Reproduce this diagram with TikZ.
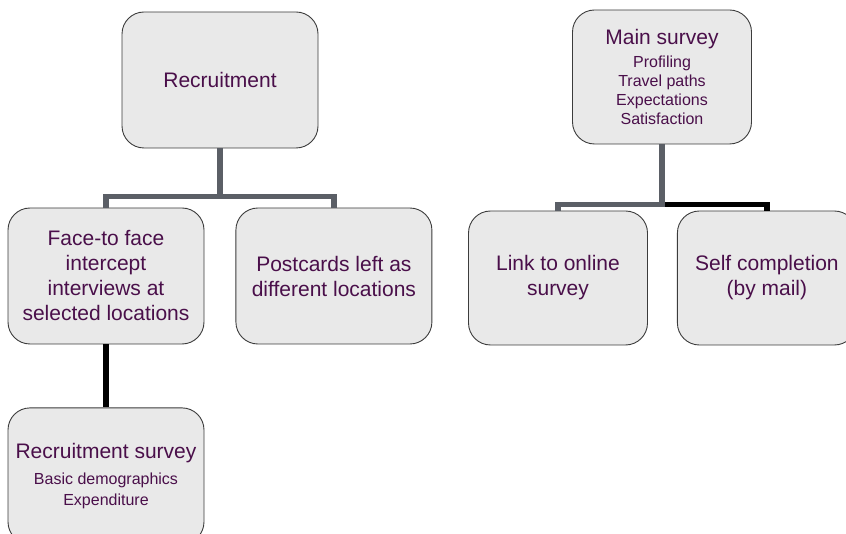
\documentclass[tikz,border=0pt]{standalone}
\usepackage{fontspec}
\setmainfont{Liberation Sans}
\usepackage{xcolor}
\usetikzlibrary{positioning}
\definecolor{boxfill}{HTML}{E9E9E9}
\definecolor{boxline}{HTML}{3C3C3C}
\definecolor{textpurple}{HTML}{4A0F4A}
\definecolor{linkgray}{HTML}{5B5F66}
\newcommand{\smalltxt}{\fontsize{16}{19.5}\selectfont}
\tikzstyle{stage} = [rectangle, rounded corners=22pt, minimum width=196pt, minimum height=136pt, align=center, draw=boxline, line width=0.9pt, fill=boxfill, text=textpurple, font=\fontsize{21}{25}\selectfont]
\tikzstyle{stagenarrow} = [stage, minimum width=179pt, minimum height=134pt]
\tikzstyle{link} = [line width=5.5pt, draw=linkgray]
\tikzstyle{linkdark} = [line width=5.5pt, draw=black]

\begin{document}
\begin{tikzpicture}[x=1pt, y=1pt]
\useasboundingbox (0,0) rectangle (846,-534);

% Nodi del reclutamento
\node (recruitment) [stage] at (220,-80) {Recruitment};
\node (face_to_face) [stage] at (106,-276) {Face-to face\\ intercept\\ interviews at\\ selected locations};
\node (postcards) [stage, right=31pt of face_to_face] {Postcards left as\\ different locations};
\node (recruitment_survey) [stage, below=63pt of face_to_face] {Recruitment survey\\[1pt] \smalltxt Basic demographics\\[-4pt] \smalltxt Expenditure};

% Nodi dell'indagine principale
\node (main_survey) [stagenarrow] at (662,-77) {Main survey\\[-2pt] \smalltxt Profiling\\[-6pt] \smalltxt Travel paths\\[-6pt] \smalltxt Expectations\\[-6pt] \smalltxt Satisfaction};
\node (link_online) [stagenarrow] at (558,-278) {Link to online\\ survey};
\node (self_completion) [stagenarrow, right=29pt of link_online] {Self completion\\ (by mail)};

% Connessioni
\draw [link] (recruitment.south) -- ++(0,-48) -| (face_to_face.north);
\draw [link] (recruitment.south) -- ++(0,-48) -| (postcards.north);
\draw [linkdark] (face_to_face.south) -- (recruitment_survey.north);
\draw [linkdark] (main_survey.south) ++(0,-60) -| (self_completion.north);
\draw [link] (main_survey.south) -- ++(0,-60) -| (link_online.north);

\end{tikzpicture}
\end{document}
